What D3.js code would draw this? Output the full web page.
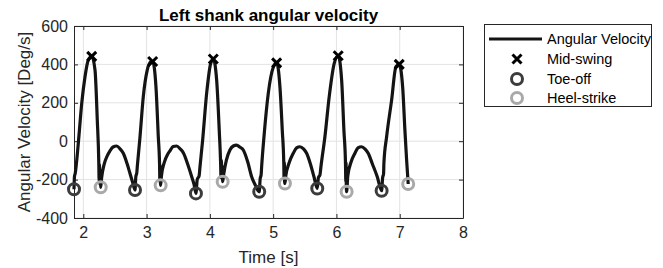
<!DOCTYPE html>
<html>
<head>
<meta charset="utf-8">
<script src="https://cdn.jsdelivr.net/npm/d3@7"></script>
<style>
  body { margin: 0; background: #fff; }
  svg { display: block; font-family: "Liberation Sans", Arial, sans-serif; }
</style>
</head>
<body>
<div id="chart"></div>
<script>
// Left shank angular velocity
var timeSec = [
  1.853, 1.860, 1.872, 1.921, 1.975, 2.027, 2.079, 2.133, 2.185, 2.221, 2.245, 2.250, 2.256, 2.262, 2.268, 2.275,
  2.29, 2.33, 2.38, 2.422, 2.47, 2.528, 2.58, 2.632, 2.69, 2.738, 2.78, 2.817,
  2.830, 2.845, 2.853, 2.896, 2.948, 3.011, 3.065, 3.096, 3.148, 3.185, 3.205, 3.210, 3.214, 3.218, 3.222,
  3.235, 3.28, 3.33, 3.37, 3.42, 3.476, 3.53, 3.580, 3.65, 3.713, 3.75, 3.780,
  3.80, 3.83, 3.844, 3.886, 3.949, 4.013, 4.054, 4.107, 4.148, 4.170, 4.176, 4.182, 4.188, 4.195, 4.202,
  4.22, 4.26, 4.317, 4.37, 4.423, 4.47, 4.528, 4.60, 4.660, 4.72, 4.780,
  4.795, 4.81, 4.818, 4.855, 4.923, 5.002, 5.055, 5.107, 5.144, 5.168, 5.173, 5.177, 5.181, 5.186,
  5.20, 5.25, 5.318, 5.37, 5.423, 5.48, 5.529, 5.59, 5.645, 5.697,
  5.715, 5.74, 5.755, 5.818, 5.886, 5.965, 6.028, 6.082, 6.118, 6.143, 6.148, 6.152, 6.156, 6.161,
  6.18, 6.23, 6.292, 6.34, 6.398, 6.45, 6.502, 6.57, 6.645, 6.714,
  6.73, 6.745, 6.75, 6.793, 6.872, 6.940, 6.992, 7.046, 7.082, 7.109, 7.134
];
var angVel = [
  -250, -185, -168, -11, 197, 336, 423, 442, 371, 110, -115, -205, -120, -225, -150, -240,
  -190, -120, -75, -50, -30, -25, -40, -63, -115, -168, -215, -254,
  -185, -165, -133, 23, 232, 371, 414, 415, 284, 23, -120, -210, -125, -215, -230,
  -180, -110, -70, -50, -28, -25, -40, -60, -120, -185, -225, -272,
  -200, -180, -133, 6, 249, 405, 428, 319, 58, -115, -190, -100, -170, -130, -211,
  -170, -100, -46, -25, -20, -30, -46, -110, -185, -230, -263,
  -195, -175, -133, 23, 249, 385, 408, 284, 58, -115, -200, -110, -210, -220,
  -180, -115, -63, -35, -29, -40, -63, -120, -185, -246,
  -190, -175, -133, 23, 232, 405, 445, 319, 58, -115, -210, -110, -230, -263,
  -180, -110, -63, -35, -29, -40, -63, -120, -185, -258,
  -190, -170, -115, 23, 214, 388, 400, 284, 58, -98, -223
];

var midSwingT = [2.133, 3.096, 4.054, 5.055, 6.028, 6.992];
var midSwingV = [442, 415, 428, 408, 445, 400];
var toeOffT = [1.853, 2.817, 3.780, 4.780, 5.697, 6.714];
var toeOffV = [-250, -254, -272, -263, -246, -258];
var heelStrikeT = [2.275, 3.222, 4.202, 5.186, 6.161, 7.134];
var heelStrikeV = [-240, -230, -211, -220, -263, -223];

var xTicks = [2, 3, 4, 5, 6, 7, 8];
var yTicks = [-400, -200, 0, 200, 400, 600];
var legendLabels = ["Angular Velocity", "Mid-swing", "Toe-off", "Heel-strike"];

var W = 663, H = 268;
var plot = { left: 74, right: 463, top: 26, bottom: 218 };
var ink = "#262626";

var svg = d3.select("#chart").append("svg")
  .attr("width", W).attr("height", H);

var x = d3.scaleLinear().domain([1.853, 8]).range([plot.left, plot.right]);
var y = d3.scaleLinear().domain([-400, 600]).range([plot.bottom, plot.top]);

// grid
svg.append("g").selectAll("line").data(xTicks).enter().append("line")
  .attr("x1", d => x(d)).attr("x2", d => x(d))
  .attr("y1", plot.top).attr("y2", plot.bottom)
  .attr("stroke", "#e3e3e3").attr("stroke-width", 1);
svg.append("g").selectAll("line").data(yTicks).enter().append("line")
  .attr("x1", plot.left).attr("x2", plot.right)
  .attr("y1", d => y(d)).attr("y2", d => y(d))
  .attr("stroke", "#e3e3e3").attr("stroke-width", 1);

// axes (MATLAB-like box with inward ticks), plain hyphen for negatives
var fmt = function(d) { return String(d); };
var xAxis = d3.axisBottom(x).tickValues(xTicks).tickFormat(fmt).tickSizeInner(-4).tickSizeOuter(0).tickPadding(9);
var yAxis = d3.axisLeft(y).tickValues(yTicks).tickFormat(fmt).tickSizeInner(-4).tickSizeOuter(0).tickPadding(6);

svg.append("g").attr("transform", "translate(0," + plot.bottom + ")").call(xAxis);
svg.append("g").attr("transform", "translate(" + plot.left + ",0)").call(yAxis);
svg.append("g").attr("transform", "translate(0," + plot.top + ")")
  .call(d3.axisTop(x).tickValues(xTicks).tickSizeInner(-4).tickSizeOuter(0).tickFormat(""));
svg.append("g").attr("transform", "translate(" + plot.right + ",0)")
  .call(d3.axisRight(y).tickValues(yTicks).tickSizeInner(-4).tickSizeOuter(0).tickFormat(""));

svg.selectAll(".domain").attr("stroke", ink);
svg.selectAll(".tick line").attr("stroke", ink);
svg.selectAll(".tick text")
  .attr("fill", ink)
  .style("font-size", "16px")
  .style("font-family", "Liberation Sans, Arial, sans-serif");

// data line
var pts = timeSec.map(function(t, i) { return [t, angVel[i]]; });
var line = d3.line()
  .x(d => x(d[0])).y(d => y(d[1]))
  .curve(d3.curveMonotoneX);

svg.append("path")
  .datum(pts)
  .attr("d", line)
  .attr("fill", "none")
  .attr("stroke", "#141414")
  .attr("stroke-width", 3.2)
  .attr("stroke-linejoin", "round");

// markers
var xPath = "M-4.5,-4.5L4.5,4.5M-4.5,4.5L4.5,-4.5";

svg.append("g").selectAll("path").data(midSwingT).enter().append("path")
  .attr("transform", (d, i) => "translate(" + x(d) + "," + y(midSwingV[i]) + ")")
  .attr("d", xPath)
  .attr("stroke", "#000").attr("stroke-width", 3).attr("fill", "none");

svg.append("g").selectAll("circle").data(toeOffT).enter().append("circle")
  .attr("cx", d => x(d)).attr("cy", (d, i) => y(toeOffV[i]))
  .attr("r", 5.5)
  .attr("fill", "none").attr("stroke", "#3c3c3c").attr("stroke-width", 3);

svg.append("g").selectAll("circle").data(heelStrikeT).enter().append("circle")
  .attr("cx", d => x(d)).attr("cy", (d, i) => y(heelStrikeV[i]))
  .attr("r", 5.5)
  .attr("fill", "none").attr("stroke", "#a9a9a9").attr("stroke-width", 3);

// title and labels
svg.append("text")
  .attr("x", (plot.left + plot.right) / 2).attr("y", 21)
  .attr("text-anchor", "middle")
  .style("font-size", "17px").style("font-weight", "bold")
  .attr("fill", "#000")
  .text("Left shank angular velocity");

svg.append("text")
  .attr("x", (plot.left + plot.right) / 2).attr("y", 263)
  .attr("text-anchor", "middle")
  .style("font-size", "17px")
  .attr("fill", ink)
  .text("Time [s]");

svg.append("text")
  .attr("transform", "translate(30," + ((plot.top + plot.bottom) / 2) + ") rotate(-90)")
  .attr("text-anchor", "middle")
  .style("font-size", "17px")
  .attr("fill", ink)
  .text("Angular Velocity [Deg/s]");

// legend
var lg = svg.append("g");
lg.append("rect")
  .attr("x", 484.5).attr("y", 24.5).attr("width", 167).attr("height", 82)
  .attr("fill", "#fff").attr("stroke", ink).attr("stroke-width", 1);

var rowY = [39, 59, 79, 98];
lg.append("line")
  .attr("x1", 489).attr("x2", 542).attr("y1", rowY[0]).attr("y2", rowY[0])
  .attr("stroke", "#141414").attr("stroke-width", 3);
lg.append("path")
  .attr("transform", "translate(517," + rowY[1] + ")")
  .attr("d", xPath).attr("stroke", "#000").attr("stroke-width", 3);
lg.append("circle")
  .attr("cx", 517).attr("cy", rowY[2]).attr("r", 5.5)
  .attr("fill", "none").attr("stroke", "#3c3c3c").attr("stroke-width", 3);
lg.append("circle")
  .attr("cx", 517).attr("cy", rowY[3]).attr("r", 5.5)
  .attr("fill", "none").attr("stroke", "#a9a9a9").attr("stroke-width", 3);

lg.selectAll("text").data(legendLabels).enter().append("text")
  .attr("x", 547).attr("y", (d, i) => rowY[i] + 5)
  .style("font-size", "14.5px")
  .attr("fill", "#000")
  .text(d => d);
</script>
</body>
</html>
